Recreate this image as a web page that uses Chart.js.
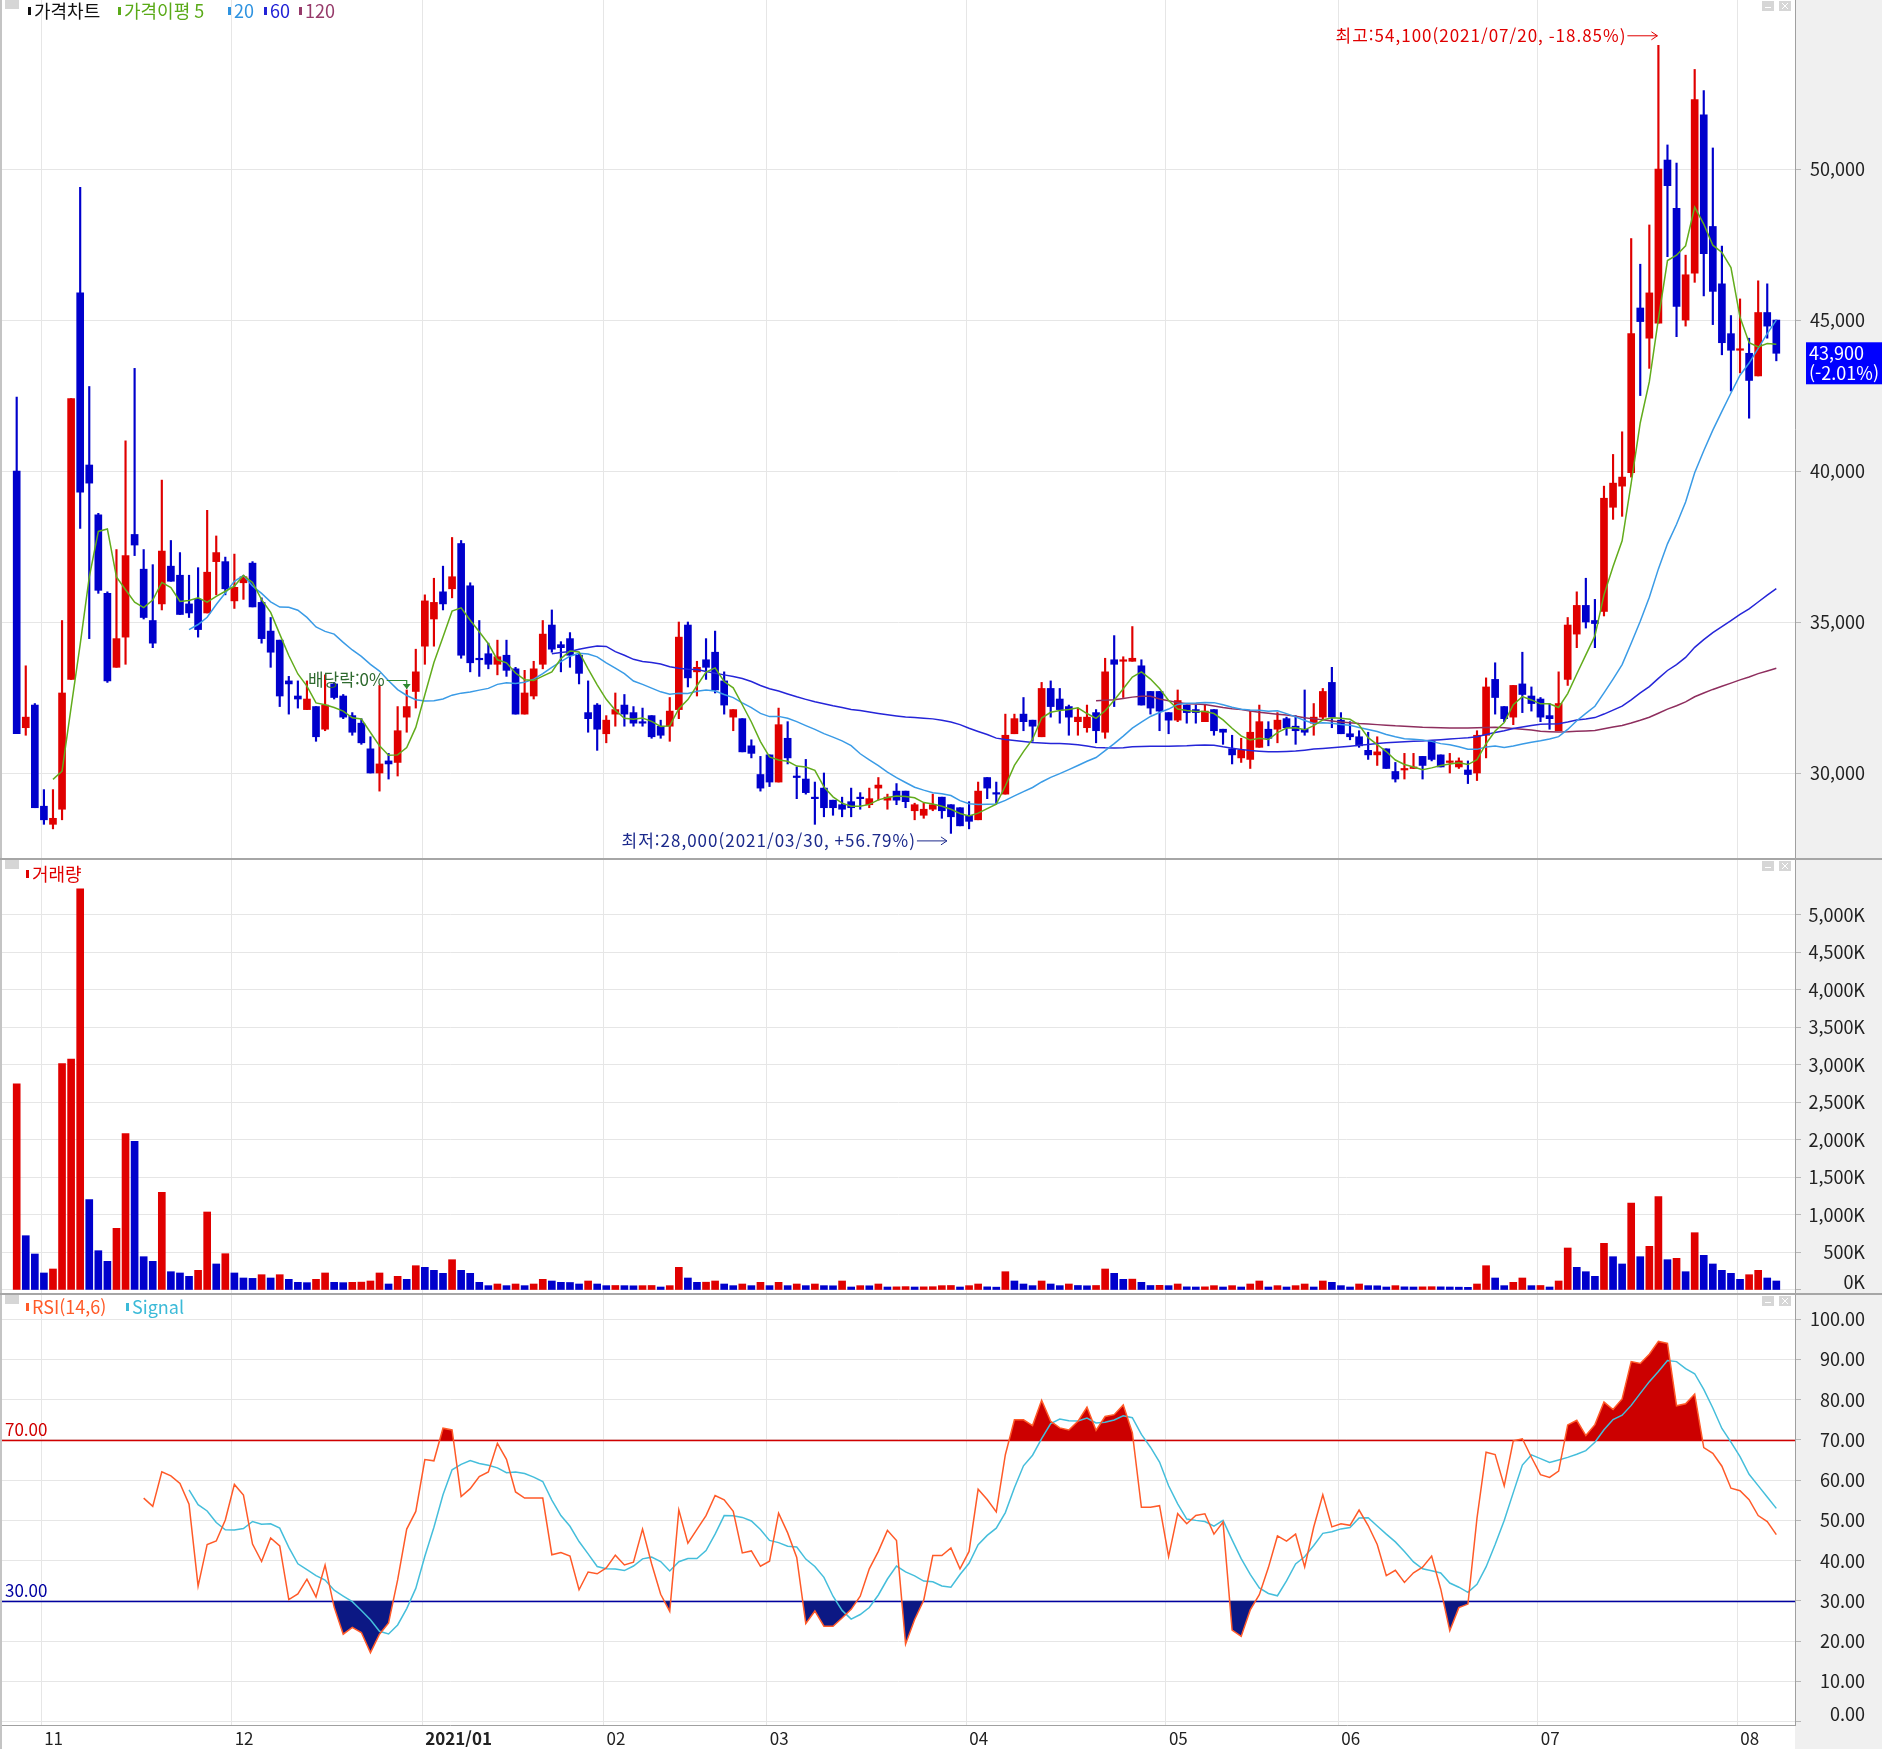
<!DOCTYPE html>
<html lang="ko">
<head>
<meta charset="utf-8">
<title>가격차트</title>
<script src="https://cdn.jsdelivr.net/npm/chart.js@4.4.1/dist/chart.umd.min.js"></script>
<style>
  html, body { margin: 0; padding: 0; background: #fff; }
  #wrap { position: relative; width: 1882px; height: 1749px; overflow: hidden; }
  canvas { position: absolute; left: 0; display: block; }
  .sep { position: absolute; left: 0; width: 1882px; height: 2px; background: #a6a6a6; }
</style>
</head>
<body>
<div id="wrap">
  <canvas id="price" width="1882" height="858" style="top:0"></canvas>
  <div class="sep" style="top:858px"></div>
  <canvas id="volume" width="1882" height="433" style="top:860px"></canvas>
  <div class="sep" style="top:1293px"></div>
  <canvas id="rsi" width="1882" height="454" style="top:1295px"></canvas>
</div>
<script>
// 데이터 - 가격은 원, 거래량은 천주
const monthLabels = ['11', '12', '2021/01', '02', '03', '04', '05', '06', '07', '08'];
const monthStart = [3, 24, 45, 65, 83, 105, 127, 146, 168, 190];

const opens = [
  40000,31500,32250,28900,28300,28800,33100,45900,40200,38550,
  35950,33500,34500,37900,36750,35050,35600,36850,36550,35600,
  35750,35300,37000,37000,35700,36300,36950,35650,34700,34400,
  33050,32550,32100,32200,31450,32950,32550,31900,31650,30800,
  30000,30400,30350,31850,32700,34200,35100,36000,36100,37600,
  36200,33800,33950,33600,33900,33450,31950,32550,33600,34900,
  34250,34450,33900,32000,32250,31300,31950,32250,32000,31700,
  31900,31550,31550,32100,34900,33350,33750,34000,33050,31850,
  31800,30900,29950,30600,29700,31150,29900,29800,29200,29500,
  29100,28950,29050,29200,28950,29500,29100,29400,29400,28750,
  28600,28800,29200,28950,28850,28600,28450,29850,29350,29300,
  31300,31950,31750,31200,32800,32450,32200,31700,31500,32000,
  31350,33750,33700,33700,33550,32700,32700,32000,31750,32250,
  32100,31700,32100,31450,30800,30500,30450,30850,31450,31450,
  31800,31550,31450,31650,31850,33000,31750,31300,31200,30750,
  30600,30800,30050,30100,30150,30550,31050,30600,30350,30200,
  30100,30000,31250,33100,32200,31850,32950,32550,32450,31900,
  31400,33100,34600,35550,35050,35350,38800,39500,39950,45400,
  44400,44900,50300,48700,45000,46550,51800,48100,46200,44550,
  44000,43900,43150,45250,45000
];
const highs = [
  42450,33550,32300,29450,29450,35050,42400,49400,42800,38600,
  36000,37400,41000,43400,37400,36900,39700,37700,37300,36550,
  36800,38700,37850,37150,37250,36550,37000,35800,35150,34400,
  33200,33050,33050,32200,33250,33000,32600,32000,31800,31200,
  32900,30650,32200,32750,34100,35900,36450,36850,37800,37700,
  36300,35050,34300,34400,34400,33500,33400,33700,35050,35400,
  34350,34650,33950,33050,32300,31900,32650,32600,32200,32150,
  31900,31750,32500,35000,35000,33700,34450,34700,33350,32100,
  31800,31100,30550,30600,32150,31700,30200,30450,29700,30000,
  29100,29200,29500,29350,29500,29850,29300,29650,29400,29000,
  29000,29300,29200,28950,28850,29050,29700,29850,29700,31950,
  31950,32500,31750,33000,33050,32800,32250,32150,32250,32100,
  33800,34550,33850,34850,33750,32700,32700,32000,32750,32250,
  32250,32250,32100,31450,31250,31150,32050,32250,31700,32000,
  31850,31900,32750,32300,32800,33500,32000,31700,31400,31350,
  31200,30800,30350,30650,30650,30550,31050,30600,30650,30500,
  30400,31400,33150,33650,32200,32900,34000,32850,32500,32300,
  33350,35150,36000,36450,35750,39500,40550,41300,47700,46850,
  48150,54100,50800,50200,47150,53300,52600,50700,47450,45150,
  45700,44400,46300,46200,45000
];
const lows = [
  31300,31250,28850,28300,28150,28450,33100,38100,34450,35950,
  33000,33500,33600,37200,35100,34150,35400,36350,35250,35150,
  34500,35300,35900,35900,35450,35750,35500,34300,33500,32200,
  31950,32150,32100,31050,31400,32450,31800,31250,30950,30000,
  29400,29800,29900,31350,32150,33600,34200,35400,35800,33800,
  33350,33200,33450,33250,33200,31950,31950,32450,33450,34000,
  33350,33500,32950,31350,30750,31000,31550,31550,31550,31550,
  31150,31150,31050,31800,32850,32550,33100,32650,31950,31400,
  30700,30500,29400,29550,29700,30300,29150,29300,28300,28550,
  28600,28550,28550,28800,28850,29100,28800,28950,28850,28450,
  28500,28750,28500,28000,28250,28150,28450,29150,29000,29300,
  31300,31400,31050,31200,31850,31650,31250,31250,31350,31000,
  31150,32200,32500,33700,32250,31950,31400,31300,31700,31650,
  31650,31700,31250,30950,30300,30350,30150,30850,30900,31000,
  31250,30950,31250,31250,31800,31500,31300,31100,30850,30450,
  30250,30150,29700,29800,30150,29800,30400,30200,30000,30150,
  29650,29750,30500,31950,31700,31600,32000,32050,31700,31450,
  31400,32900,34150,34800,34150,35200,38400,38500,39800,42500,
  43400,44900,47100,44450,44800,46250,45800,44850,43850,42650,
  43250,41750,43150,44400,43650
];
const closes = [
  31300,31850,28850,28450,28500,32650,42400,39300,39600,36050,
  33050,34450,37200,37550,35150,34300,37350,36350,35250,35300,
  34750,36650,37300,36100,36150,36500,35500,34450,34000,32550,
  32950,32450,32450,31200,32250,32500,31850,31350,31000,30000,
  30300,30300,31400,32200,33350,35700,35650,35600,36500,33900,
  33650,33750,33600,33850,33400,31950,32650,33450,34600,34100,
  34150,33900,33300,31800,31450,31750,32100,31950,31650,31650,
  31200,31250,32050,34500,33150,33500,33500,32750,32250,32100,
  30700,30650,29500,29700,31600,30500,29850,29350,29150,28850,
  28850,28800,28850,29150,29150,29600,29200,29100,29050,28950,
  28800,28950,28750,28550,28250,28400,29400,29500,29300,31250,
  31800,31700,31550,32800,32200,32100,31850,31850,31850,31400,
  33350,33600,33750,33800,32250,32150,32050,31750,32400,32000,
  32000,32050,31400,31350,30600,30750,31350,31700,31150,31750,
  31500,31400,31350,31850,32700,31850,31300,31200,30900,30600,
  30700,30150,29800,30150,30200,30250,30450,30200,30400,30400,
  29950,31250,32850,32500,31800,32900,32600,32300,31850,31800,
  32300,34900,35550,35000,34950,39100,39600,39800,44550,44950,
  45900,50000,49450,45450,46500,52300,47200,45950,44250,44000,
  44050,43000,45250,44800,43900
];
const volumes = [
  2750,724,480,227,280,3020,3080,5350,1204,524,
  382,822,2084,1982,444,382,1302,244,227,182,
  262,1040,347,484,227,160,155,204,160,204,
  142,102,98,142,227,102,98,102,105,120,
  227,80,182,142,324,302,262,222,404,262,
  222,102,58,80,58,80,58,80,142,120,
  102,100,80,120,80,58,60,58,56,58,
  60,40,58,302,160,102,104,120,80,58,
  80,58,102,58,102,58,80,58,80,58,
  56,120,40,58,56,80,40,42,45,40,
  42,44,58,60,40,58,80,42,38,244,
  120,80,58,120,80,58,80,60,56,60,
  280,222,142,145,102,60,62,58,80,42,
  40,42,58,40,58,40,80,120,40,58,
  40,58,80,40,120,102,58,40,80,58,
  56,40,58,42,40,42,44,42,40,38,
  36,80,324,160,58,102,160,58,60,40,
  120,560,302,244,182,622,444,347,1160,444,
  582,1244,404,422,244,764,462,347,262,222,
  142,204,262,160,120
];

const priceTicks = [30000, 35000, 40000, 45000, 50000];
const volumeTicks = [0, 500, 1000, 1500, 2000, 2500, 3000, 3500, 4000, 4500, 5000];
const rsiTicks = [0, 10, 20, 30, 40, 50, 60, 70, 80, 90, 100];
const rsiLevels = [70, 30];
const highDate = '2021/07/20';
const lowDate = '2021/03/30';
const dividendIdx = 43;

// 색 / 글꼴
const UP = '#e00000', DOWN = '#0000cc';
const GRID = '#e6e6e6';
const FONT_NUM = "'Noto Sans CJK KR', 'Noto Sans', sans-serif";
const FONT_KR = "'Noto Sans CJK KR', 'Noto Sans', sans-serif";
const XMIN = -1.62, XMAX = 196.06;
const AXIS_W = 70, LABEL_RIGHT = 1865, RIGHT_GAP = 1882 - LABEL_RIGHT;

// 이동평균 / RSI
function sma(arr, n) {
  return arr.map((_, i) => {
    if (i < n - 1 || arr[i - n + 1] == null) return null;
    let s = 0;
    for (let k = i - n + 1; k <= i; k++) s += arr[k];
    return s / n;
  });
}
function rsiCalc(c, n) {
  return c.map((_, i) => {
    if (i < n) return null;
    let up = 0, dn = 0;
    for (let k = i - n + 1; k <= i; k++) {
      const d = c[k] - c[k - 1];
      if (d > 0) up += d; else dn -= d;
    }
    return up + dn === 0 ? 50 : up / (up + dn) * 100;
  });
}
const pts = arr => arr.map((v, i) => v == null ? null : { x: i, y: v }).filter(Boolean);

const idx = closes.map((_, i) => i);
const ma5 = sma(closes, 5), ma20 = sma(closes, 20), ma60 = sma(closes, 60), ma120 = sma(closes, 120);
const rsi = rsiCalc(closes, 14);
const signal = sma(rsi, 6);
const candleColors = idx.map(i => closes[i] >= opens[i] ? UP : DOWN);
const volumeColors = idx.map(i => (i === 0 || volumes[i] > volumes[i - 1]) ? UP : DOWN);

const fmtPrice = v => v.toLocaleString('en-US');
const fmtVol = v => v === 0 ? '' : v.toLocaleString('en-US') + 'K';
const fmtRsi = v => v === 0 ? '' : v.toFixed(2);

function xScale(showLabels) {
  return {
    type: 'linear', min: XMIN, max: XMAX, offset: false, bounds: 'data',
    afterBuildTicks: s => { s.ticks = monthStart.map(v => ({ value: v - 0.3 })); },
    afterFit: s => { s.height = showLabels ? 24 : 0; s.paddingLeft = 0; s.paddingRight = 0; },
    grid: { color: GRID, drawTicks: false, offset: false },
    border: { display: showLabels, color: '#a0a0a0' },
    ticks: {
      display: showLabels, autoSkip: false, maxRotation: 0, align: 'start', padding: 3, labelOffset: 3,
      color: '#222',
      callback: (v, i) => monthLabels[i],
      font: ctx => ({ family: FONT_NUM, size: 17, weight: monthLabels[ctx.index] === '2021/01' ? 'bold' : 'normal' })
    }
  };
}
function yScale(min, max, ticks, fmt) {
  return {
    position: 'right', min, max, bounds: 'data',
    afterBuildTicks: s => { s.ticks = ticks.map(v => ({ value: v })); },
    afterFit: s => { s.width = AXIS_W; s.paddingTop = 0; s.paddingBottom = 0; },
    grid: { color: GRID, tickLength: 6, tickColor: '#b8b8b8' },
    border: { display: true, color: '#a0a0a0' },
    ticks: { callback: fmt, color: '#222', crossAlign: 'far', padding: 6, font: { family: FONT_NUM, size: 18 } }
  };
}

function baseOptions(scales) {
  return {
    responsive: false, animation: false, devicePixelRatio: 1,
    layout: { padding: { left: 2, right: RIGHT_GAP, top: 0, bottom: 0 } },
    plugins: { legend: { display: false }, tooltip: { enabled: false } },
    elements: { point: { radius: 0 } },
    scales
  };
}

// 패널 공통 장식: 오른쪽 축 배경, 왼쪽 테두리, 작은 버튼
const paneDecor = {
  id: 'paneDecor',
  beforeDraw(chart) {
    const c = chart.ctx, a = chart.chartArea;
    c.save();
    c.fillStyle = '#f0f0f0';
    c.fillRect(a.right, 0, chart.width - a.right, chart.height);
    c.fillStyle = '#c4c4c4';
    c.fillRect(0, 0, 2, chart.height);
    c.fillStyle = '#d6d6d6';
    c.fillRect(5, 0, 14, 9);
    c.fillRect(1762, 1, 12, 10);
    c.fillRect(1779, 1, 12, 10);
    c.strokeStyle = '#ffffff';
    c.lineWidth = 1;
    c.beginPath();
    c.moveTo(1765, 7.5); c.lineTo(1771, 7.5);
    c.moveTo(1782, 3); c.lineTo(1788, 9); c.moveTo(1788, 3); c.lineTo(1782, 9);
    c.stroke();
    c.restore();
  }
};

function drawLegend(c, items, y) {
  c.font = '18px ' + FONT_KR;
  c.textBaseline = 'middle';
  c.textAlign = 'left';
  items.forEach(([x, text, color]) => {
    c.fillStyle = color;
    c.fillRect(x, y - 4, 3, 8);
    c.fillText(text, x + 6, y);
  });
}
function arrowText(c, text, xEnd, y, color) {
  c.font = '17px ' + FONT_KR;
  c.letterSpacing = '1px';
  c.fillStyle = color; c.strokeStyle = color; c.lineWidth = 1;
  c.textAlign = 'right'; c.textBaseline = 'middle';
  const x0 = xEnd - 30;
  c.fillText(text, x0 - 1, y);
  c.letterSpacing = '0px';
  c.beginPath();
  c.moveTo(x0, y + 0.5); c.lineTo(xEnd, y + 0.5);
  c.moveTo(xEnd - 6, y - 3.5); c.lineTo(xEnd, y + 0.5); c.lineTo(xEnd - 6, y + 4.5);
  c.stroke();
}

const priceNotes = {
  id: 'priceNotes',
  afterDraw(chart) {
    const c = chart.ctx, xs = chart.scales.x, ys = chart.scales.y;
    c.save();
    drawLegend(c, [
      [28, '가격차트', '#111'],
      [118, '가격이평 5', '#5aaa18'],
      [228, '20', '#2f93e0'],
      [264, '60', '#2222d6'],
      [299, '120', '#963a6a']
    ], 11);

    const last = closes.length - 1;
    const hi = Math.max(...highs), iHi = highs.indexOf(hi);
    const lo = Math.min(...lows), iLo = lows.indexOf(lo);
    const pHi = ((closes[last] - hi) / hi * 100).toFixed(2);
    const pLo = ((closes[last] - lo) / lo * 100).toFixed(2);
    arrowText(c, '최고:' + fmtPrice(hi) + '(' + highDate + ', ' + pHi + '%)',
      xs.getPixelForValue(iHi) - 1, ys.getPixelForValue(hi) - 10, '#e00000');
    arrowText(c, '최저:' + fmtPrice(lo) + '(' + lowDate + ', +' + pLo + '%)',
      xs.getPixelForValue(iLo) - 4, ys.getPixelForValue(lo) + 7, '#1c2a8c');

    // 배당락 표시
    const dx = xs.getPixelForValue(dividendIdx);
    const dTop = ys.getPixelForValue(highs[dividendIdx]) - 1;
    const ty = 680;
    c.font = '17px ' + FONT_KR;
    c.fillStyle = '#2f6a2f'; c.strokeStyle = '#2f8a2f';
    c.textAlign = 'right'; c.textBaseline = 'middle';
    c.fillText('배당락:0%', dx - 22, ty);
    c.lineWidth = 1.2;
    c.beginPath();
    c.moveTo(dx - 20, ty + 0.5); c.lineTo(dx, ty + 0.5); c.lineTo(dx, dTop);
    c.stroke();
    c.fillStyle = '#2f8a2f';
    c.beginPath();
    c.moveTo(dx - 4, dTop - 5); c.lineTo(dx + 4, dTop - 5); c.lineTo(dx, dTop); c.closePath();
    c.fill();

    // 현재가 박스
    const prev = closes[last - 1];
    const chg = ((closes[last] - prev) / prev * 100).toFixed(2);
    const by = ys.getPixelForValue(closes[last]);
    c.fillStyle = '#0000ff';
    c.fillRect(1806, by - 11, 76, 42);
    c.fillStyle = '#ffffff';
    c.font = '18px ' + FONT_NUM;
    c.textAlign = 'left';
    c.fillText(fmtPrice(closes[last]), 1809, by);
    c.fillText('(' + chg + '%)', 1809, by + 20);
    c.restore();
  }
};

const volumeNotes = {
  id: 'volumeNotes',
  afterDraw(chart) {
    const c = chart.ctx;
    c.save();
    drawLegend(c, [[26, '거래량', '#e00000']], 14);
    c.font = '18px ' + FONT_NUM;
    c.fillStyle = '#222'; c.textAlign = 'right'; c.textBaseline = 'middle';
    c.fillText('0K', LABEL_RIGHT, 422);
    c.restore();
  }
};

const rsiNotes = {
  id: 'rsiNotes',
  beforeDatasetsDraw(chart) {
    const c = chart.ctx, a = chart.chartArea, ys = chart.scales.y;
    c.save();
    c.lineWidth = 1.5;
    [[70, '#d00000'], [30, '#0000a0']].forEach(([v, col]) => {
      const y = Math.round(ys.getPixelForValue(v)) + 0.5;
      c.strokeStyle = col;
      c.beginPath(); c.moveTo(a.left, y); c.lineTo(a.right, y); c.stroke();
    });
    c.restore();
  },
  afterDraw(chart) {
    const c = chart.ctx, ys = chart.scales.y;
    c.save();
    drawLegend(c, [[26, 'RSI(14,6)', '#ff5a28'], [126, 'Signal', '#3bbad8']], 12);
    c.font = '17px ' + FONT_NUM;
    c.textAlign = 'left'; c.textBaseline = 'middle';
    c.fillStyle = '#d00000';
    c.fillText(rsiLevels[0].toFixed(2), 5, ys.getPixelForValue(rsiLevels[0]) - 10);
    c.fillStyle = '#0000a0';
    c.fillText(rsiLevels[1].toFixed(2), 5, ys.getPixelForValue(rsiLevels[1]) - 10);
    c.font = '18px ' + FONT_NUM;
    c.fillStyle = '#222'; c.textAlign = 'right';
    c.fillText('0.00', LABEL_RIGHT, 419);
    c.restore();
  }
};

function maLine(data, color, order) {
  return { type: 'line', data: pts(data), borderColor: color, borderWidth: 1.5,
    pointRadius: 0, fill: false, tension: 0, order };
}

// 가격차트
new Chart(document.getElementById('price'), {
  type: 'bar',
  data: {
    datasets: [
      maLine(ma5, '#62ac1c', 0),
      maLine(ma20, '#3a9be6', 1),
      maLine(ma60, '#2525d8', 2),
      maLine(ma120, '#8e2e5e', 3),
      { type: 'bar', data: idx.map(i => ({ x: i, y: [opens[i], closes[i]] })),
        backgroundColor: candleColors, barThickness: 7, minBarLength: 1.5, grouped: false, order: 4 },
      { type: 'bar', data: idx.map(i => ({ x: i, y: [lows[i], highs[i]] })),
        backgroundColor: candleColors, barThickness: 1.5, grouped: false, order: 5 }
    ]
  },
  options: baseOptions({ x: xScale(false), y: yScale(27185, 55600, priceTicks, fmtPrice) }),
  plugins: [paneDecor, priceNotes]
});

// 거래량
new Chart(document.getElementById('volume'), {
  type: 'bar',
  data: {
    datasets: [{ data: idx.map(i => ({ x: i, y: volumes[i] })), backgroundColor: volumeColors,
      barThickness: 7, grouped: false }]
  },
  options: baseOptions({ x: xScale(false), y: yScale(-40, 5733, volumeTicks, fmtVol) }),
  plugins: [paneDecor, volumeNotes]
});

// RSI
new Chart(document.getElementById('rsi'), {
  type: 'line',
  data: {
    datasets: [
      { data: pts(rsi), borderColor: '#ff5a28', borderWidth: 1.5, fill: false, order: 0 },
      { data: pts(signal), borderColor: '#45bedb', borderWidth: 1.5, fill: false, order: 1 },
      { data: pts(rsi), borderColor: 'rgba(0,0,0,0)', borderWidth: 0, order: 3,
        fill: { target: { value: 70 }, above: '#cc0000', below: 'rgba(0,0,0,0)' } },
      { data: pts(rsi), borderColor: 'rgba(0,0,0,0)', borderWidth: 0, order: 3,
        fill: { target: { value: 30 }, above: 'rgba(0,0,0,0)', below: '#0c1884' } }
    ]
  },
  options: baseOptions({ x: xScale(true), y: yScale(-0.8, 106, rsiTicks, fmtRsi) }),
  plugins: [paneDecor, rsiNotes]
});
</script>
</body>
</html>
